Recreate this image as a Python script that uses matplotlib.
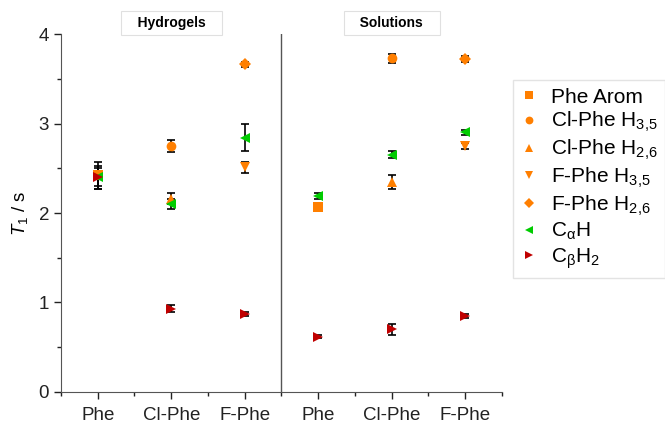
import numpy as np
import matplotlib.pyplot as plt

plt.rcParams['font.family'] = ['Liberation Sans', 'DejaVu Sans']
plt.rcParams['mathtext.fontset'] = 'custom'
plt.rcParams['mathtext.rm'] = 'Liberation Sans'
plt.rcParams['mathtext.it'] = 'Liberation Sans:italic'

nan = np.nan
categories = ['Phe', 'Cl-Phe', 'F-Phe', 'Phe', 'Cl-Phe', 'F-Phe']
groups = ['Hydrogels', 'Solutions']

phe_arom = [2.42, nan, nan, 2.07, nan, nan]
phe_arom_err = [0.15, nan, nan, 0.02, nan, nan]
clphe_h35 = [nan, 2.75, nan, nan, 3.73, nan]
clphe_h35_err = [nan, 0.07, nan, nan, 0.05, nan]
clphe_h26 = [nan, 2.16, nan, nan, 2.35, nan]
clphe_h26_err = [nan, 0.06, nan, nan, 0.08, nan]
fphe_h35 = [nan, nan, 2.51, nan, nan, 2.75]
fphe_h35_err = [nan, nan, 0.06, nan, nan, 0.03]
fphe_h26 = [nan, nan, 3.66, nan, nan, 3.72]
fphe_h26_err = [nan, nan, 0.03, nan, nan, 0.03]
ca_h = [2.40, 2.10, 2.84, 2.19, 2.65, 2.90]
ca_h_err = [0.13, 0.06, 0.15, 0.03, 0.04, 0.03]
cb_h2 = [2.40, 0.93, 0.87, 0.62, 0.70, 0.85]
cb_h2_err = [0.10, 0.04, 0.02, 0.02, 0.06, 0.02]

orange = '#ff7f00'
green = '#00cc00'
red = '#c00000'

series = [
    (phe_arom, phe_arom_err, 's', orange, 'Phe Arom'),
    (clphe_h35, clphe_h35_err, 'o', orange, 'Cl-Phe H$_{3{,}5}$'),
    (clphe_h26, clphe_h26_err, '^', orange, 'Cl-Phe H$_{2{,}6}$'),
    (fphe_h35, fphe_h35_err, 'v', orange, 'F-Phe H$_{3{,}5}$'),
    (fphe_h26, fphe_h26_err, 'D', orange, 'F-Phe H$_{2{,}6}$'),
    (ca_h, ca_h_err, '<', green, 'C$_{\\mathrm{\\alpha}}$H'),
    (cb_h2, cb_h2_err, '>', red, 'C$_{\\mathrm{\\beta}}$H$_2$'),
]

x = np.arange(1, len(categories) + 1)

fig = plt.figure(figsize=(6.65, 4.23), dpi=100)
ax = fig.add_axes([0.0917, 0.0733, 0.663, 0.8463])

handles = []
for vals, errs, mk, col, lab in series:
    vals = np.array(vals)
    errs = np.array(errs)
    ax.errorbar(x, vals, yerr=errs, fmt='none', ecolor='black', elinewidth=1.2,
                capsize=3, capthick=1.2, zorder=2)
    ms = 6 if mk == 'D' else 7
    h = ax.plot(x, vals, linestyle='none', marker=mk, color=col, markersize=ms,
                markeredgewidth=0, label=lab, zorder=3)[0]
    handles.append(h)

ax.axvline(3.5, color='#555555', linewidth=1)

ax.set_xlim(0.5, 6.5)
ax.set_ylim(0, 4)
ax.set_xticks(x)
ax.set_xticklabels(categories)
ax.set_xticks(np.arange(0.5, 6.6, 1), minor=True)
ax.set_yticks([0, 1, 2, 3, 4])
ax.set_yticks([0.5, 1.5, 2.5, 3.5], minor=True)
ax.tick_params(axis='both', which='major', labelsize=13.5, length=5, width=1, colors='#222222')
ax.tick_params(axis='x', which='major', pad=6)
ax.tick_params(axis='both', which='minor', length=3, width=1, colors='#222222')
ax.spines['top'].set_visible(False)
ax.spines['right'].set_visible(False)
ax.spines['left'].set_color('#555555')
ax.spines['bottom'].set_color('#555555')
ax.set_ylabel('$T_1$ / s', fontsize=13.5)
ax.yaxis.set_label_coords(-0.07, 0.5)

for gx, g in zip([2, 5], groups):
    ax.text(gx, 4.123, '   ' + g + '   ', ha='center', va='center', fontsize=10,
            fontweight='bold',
            bbox=dict(boxstyle='square,pad=0.35', facecolor='white', edgecolor='#e0e0e0',
                      linewidth=0.8),
            clip_on=False)

leg = fig.legend(handles=handles, loc='upper left', bbox_to_anchor=(0.771, 0.81),
                 fontsize=15, frameon=True, fancybox=False, edgecolor='#dddddd',
                 handlelength=0.9, handletextpad=0.6, labelspacing=0.17,
                 borderpad=0.35, markerscale=0.8, borderaxespad=0)

fig.savefig('out.png', dpi=100)
